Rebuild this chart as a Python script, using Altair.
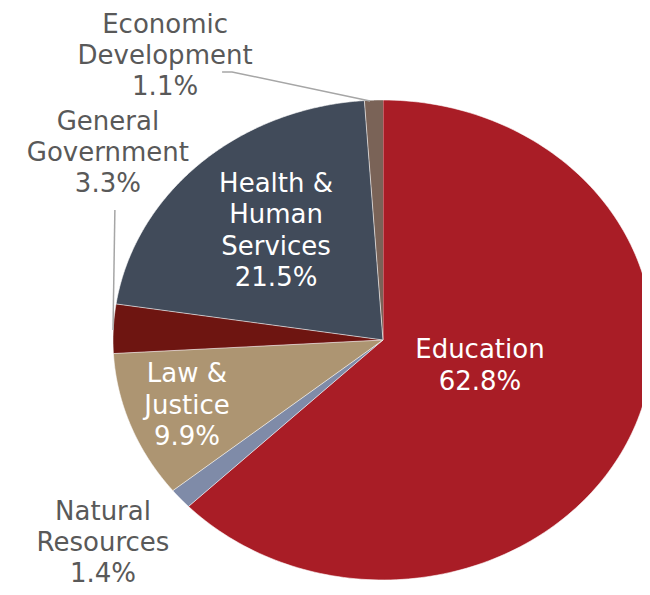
import altair as alt
import pandas as pd

# ---- data ----
cats = ["Education", "Natural Resources", "Law & Justice",
        "General Government", "Health & Human Services", "Economic Development"]
values = [62.8, 1.4, 9.9, 3.3, 21.5, 1.1]
label_text = ["Education", "Natural\nResources", "Law &\nJustice",
              "General\nGovernment", "Health &\nHuman\nServices", "Economic\nDevelopment"]
colors = ["#A91D26", "#7F8BA8", "#AD9572", "#6E1511", "#414B5A", "#7A6357"]
outside = ["Natural Resources", "General Government", "Economic Development"]

# label anchors (first text line) in pie units (radius = 1)
label_x = [0.359, -1.037, -0.726, -1.019, -0.396, -0.807]
label_y = [-0.042, -0.717, -0.142, 0.908, 0.65, 1.313]

# leader lines in pie units
lead_grp = ["econ", "econ", "econ", "gov", "gov"]
lead_ord = [0, 1, 2, 0, 1]
lead_x = [-0.596, -0.559, -0.048, -0.993, -1.0]
lead_y = [1.117, 1.117, 0.996, 0.542, 0.042]

W, H = 634, 579
xdom = [-1.3889, 0.9593]
ydom = [-1.0292, 1.3833]

pie_df = pd.DataFrame({"cat": cats, "value": values, "idx": list(range(len(cats)))})
lab_df = pd.DataFrame({"cat": cats, "value": values, "lab": label_text,
                       "lx": label_x, "ly": label_y})
lead_df = pd.DataFrame({"g": lead_grp, "o": lead_ord, "x": lead_x, "y": lead_y})

xs = alt.Scale(domain=xdom, nice=False, zero=False)
ys = alt.Scale(domain=ydom, nice=False, zero=False)
fill_scale = alt.Scale(domain=cats, range=colors)

wedges = (
    alt.Chart(pie_df)
    .transform_window(cum="sum(value)", sort=[alt.SortField("idx")], frame=[None, 0])
    .transform_calculate(start="datum.cum - datum.value", steps="sequence(-1, 181)")
    .transform_flatten(["steps"], as_=["t"])
    .transform_calculate(
        ang="2 * PI * (datum.start + datum.value * datum.t / 180) / 100",
    )
    .transform_calculate(
        px="datum.t < 0 ? 0 : sin(datum.ang)",
        py="datum.t < 0 ? 0 : cos(datum.ang)",
    )
    .mark_line(stroke="white", strokeWidth=0.6, interpolate="linear")
    .encode(
        x=alt.X("px:Q", scale=xs, axis=None),
        y=alt.Y("py:Q", scale=ys, axis=None),
        fill=alt.Fill("cat:N", scale=fill_scale, legend=None),
        detail="cat:N",
        order=alt.Order("t:Q"),
    )
)

leaders = (
    alt.Chart(lead_df)
    .mark_line(color="#A6A6A6", strokeWidth=1.5)
    .encode(
        x=alt.X("x:Q", scale=xs, axis=None),
        y=alt.Y("y:Q", scale=ys, axis=None),
        detail="g:N",
        order=alt.Order("o:Q"),
    )
)

labels_base = (
    alt.Chart(lab_df)
    .transform_calculate(txt="datum.lab + '\\n' + format(datum.value, '.1f') + '%'")
)

text_in = (
    labels_base.transform_filter(alt.FieldOneOfPredicate(field="cat", oneOf=[c for c in cats if c not in outside]))
    .mark_text(lineBreak="\n", align="center", baseline="middle", fontSize=26,
               lineHeight=31.5, font="DejaVu Sans", color="white")
    .encode(x=alt.X("lx:Q", scale=xs, axis=None), y=alt.Y("ly:Q", scale=ys, axis=None), text="txt:N")
)

text_out = (
    labels_base.transform_filter(alt.FieldOneOfPredicate(field="cat", oneOf=outside))
    .mark_text(lineBreak="\n", align="center", baseline="middle", fontSize=26,
               lineHeight=31, font="DejaVu Sans", color="#595959")
    .encode(x=alt.X("lx:Q", scale=xs, axis=None), y=alt.Y("ly:Q", scale=ys, axis=None), text="txt:N")
)

chart = (
    alt.layer(wedges, leaders, text_in, text_out)
    .properties(width=W, height=H, padding=0, autosize="none")
    .configure_view(stroke=None)
)

chart.save("out.html", embed_options={"renderer": "svg", "actions": False})
